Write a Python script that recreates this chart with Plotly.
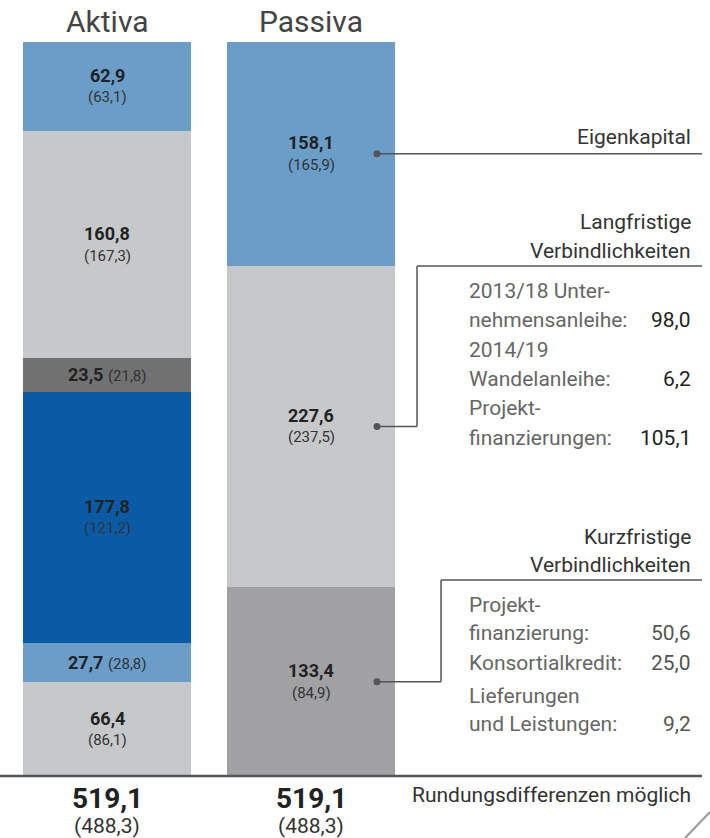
import plotly.graph_objects as go

# ---------------- data ----------------
columns = ["Aktiva", "Passiva"]
aktiva_values = [66.4, 27.7, 177.8, 23.5, 160.8, 62.9]
aktiva_prev = [86.1, 28.8, 121.2, 21.8, 167.3, 63.1]
passiva_values = [133.4, 227.6, 158.1]
passiva_prev = [84.9, 237.5, 165.9]
total_values = [519.1, 519.1]
total_prev = [488.3, 488.3]

passiva_names = ["Kurzfristige\nVerbindlichkeiten", "Langfristige\nVerbindlichkeiten", "Eigenkapital"]

lang_items = ["2013/18 Unter-\nnehmensanleihe:", "2014/19\nWandelanleihe:", "Projekt-\nfinanzierungen:"]
lang_values = [98.0, 6.2, 105.1]
kurz_items = ["Projekt-\nfinanzierung:", "Konsortialkredit:", "Lieferungen\nund Leistungen:"]
kurz_values = [50.6, 25.0, 9.2]
footnote = "Rundungsdifferenzen möglich"

# ---------------- styles ----------------
aktiva_colors = ["#c7c8ca", "#6a9ec9", "#0a5ba5", "#717172", "#c7c8ca", "#6a9ec9"]
passiva_colors = ["#a1a1a3", "#c7c8ca", "#6a9ec9"]
single_line = [False, True, False, True, False, False]
FONT = "Roboto"
W, H = 710, 838
BAR_W = 168 / 204
SIDE = 21


def de(v):
    return f"{v:.1f}".replace(".", ",")


def px(x):
    return x / W


def py(y):
    return 1 - y / H


fig = go.Figure()

# stacked bars
for i, v in enumerate(aktiva_values):
    fig.add_bar(x=[0], y=[v], marker=dict(color=aktiva_colors[i], line=dict(width=0)),
                width=BAR_W, showlegend=False, hoverinfo="skip")
for i, v in enumerate(passiva_values):
    fig.add_bar(x=[1], y=[v], marker=dict(color=passiva_colors[i], line=dict(width=0)),
                width=BAR_W, showlegend=False, hoverinfo="skip")

ann = []


def seg_labels(xc, values, prevs, singles):
    base = 0
    mids = []
    for v, p, s in zip(values, prevs, singles):
        mid = base + v / 2
        mids.append(mid)
        if s:
            ann.append(dict(x=xc, y=mid, xref="x", yref="y", showarrow=False, yanchor="middle",
                            text=f"<b>{de(v)}</b> <span style='font-size:15px;color:#333'>({de(p)})</span>",
                            font=dict(family=FONT, size=18, color="#222")))
        else:
            ann.append(dict(x=xc, y=mid, xref="x", yref="y", showarrow=False, yshift=11, yanchor="middle",
                            text=f"<b>{de(v)}</b>", font=dict(family=FONT, size=18, color="#222")))
            ann.append(dict(x=xc, y=mid, xref="x", yref="y", showarrow=False, yshift=-11, yanchor="middle",
                            text=f"({de(p)})", font=dict(family=FONT, size=15, color="#333")))
        base += v
    return mids


seg_labels(0, aktiva_values, aktiva_prev, single_line)
pmids = seg_labels(1, passiva_values, passiva_prev, [False] * 3)

# column titles and totals
for i, name in enumerate(columns):
    ann.append(dict(x=i, y=py(22), xref="x", yref="paper", showarrow=False, text=name,
                    xanchor="center", yanchor="middle",
                    font=dict(family=FONT, size=30, color="#444")))
    ann.append(dict(x=i, y=py(798), xref="x", yref="paper", showarrow=False,
                    xanchor="center", yanchor="middle",
                    text=f"<b>{de(total_values[i])}</b>", font=dict(family=FONT, size=28, color="#222")))
    ann.append(dict(x=i, y=py(826), xref="x", yref="paper", showarrow=False,
                    xanchor="center", yanchor="middle",
                    text=f"({de(total_prev[i])})", font=dict(family=FONT, size=21, color="#333")))

RIGHT = px(693)


def rtext(y, t, color="#333", size=SIDE):
    ann.append(dict(x=RIGHT, y=py(y), xref="paper", yref="paper", xanchor="right", yanchor="middle",
                    showarrow=False, text=t, font=dict(family=FONT, size=size, color=color)))


def ltext(y, t, color="#666", size=SIDE):
    ann.append(dict(x=px(467), y=py(y), xref="paper", yref="paper", xanchor="left", yanchor="middle",
                    showarrow=False, text=t, font=dict(family=FONT, size=size, color=color)))


# passiva headings
rtext(137, passiva_names[2])
h1, h2 = passiva_names[1].split("\n")
rtext(222, h1)
rtext(251, h2)
k1, k2 = passiva_names[0].split("\n")
rtext(537, k1)
rtext(565, k2)

# long-term items
ys_lang = [(291, 320), (350, 379), (408, 438)]
for (ya, yb), name, v in zip(ys_lang, lang_items, lang_values):
    a, b = name.split("\n")
    ltext(ya, a)
    ltext(yb, b)
    rtext(yb, de(v), color="#222")

ys_kurz = [(605, 633), (None, 663), (696, 724)]
for (ya, yb), name, v in zip(ys_kurz, kurz_items, kurz_values):
    parts = name.split("\n")
    if len(parts) == 2:
        ltext(ya, parts[0])
        ltext(yb, parts[1])
    else:
        ltext(yb, parts[0])
    rtext(yb, de(v), color="#555")

rtext(795, footnote, color="#333")

# connector lines
LC = "#555"
K = 734 / 519.1
DOT_X = (377 - 107) / 204
xr = lambda x: (x - 107) / 204
yv = lambda yp: (776 - yp) / K
shapes = []


def seg(x0, y0, x1, y1, xref="x", yref="y", w=1.5, c=LC):
    shapes.append(dict(type="line", x0=x0, y0=y0, x1=x1, y1=y1, xref=xref, yref=yref,
                       line=dict(color=c, width=w)))


# Eigenkapital
seg(DOT_X, pmids[2], xr(702), pmids[2])
# Langfristige
seg(DOT_X, pmids[1], xr(417), pmids[1])
seg(xr(417), pmids[1], xr(417), yv(266))
seg(xr(417), yv(266), xr(702), yv(266))
# Kurzfristige
seg(DOT_X, pmids[0], xr(441), pmids[0])
seg(xr(441), pmids[0], xr(441), yv(580))
seg(xr(441), yv(580), xr(702), yv(580))

for m in pmids:
    shapes.append(dict(type="circle", xref="x", yref="y", xsizemode="pixel", ysizemode="pixel",
                       xanchor=DOT_X, yanchor=m, x0=-3.5, x1=3.5, y0=-3.5, y1=3.5,
                       fillcolor="#555", line=dict(width=0)))

# baseline
seg(px(0), py(776), px(702), py(776), xref="paper", yref="paper", w=2.5, c="#555")
# page corner
seg(px(685), py(838), px(710), py(812), xref="paper", yref="paper", w=2, c="#999")

fig.update_layout(
    barmode="stack",
    width=W, height=H,
    margin=dict(l=0, r=0, t=0, b=0),
    paper_bgcolor="white", plot_bgcolor="white",
    bargap=0,
    xaxis=dict(range=[-107 / 204, (W - 107) / 204], visible=False, fixedrange=True),
    yaxis=dict(range=[-(H - 776) / K, 776 / K], visible=False, fixedrange=True),
    annotations=ann,
    shapes=shapes,
    showlegend=False,
)

fig.write_html("out.html", config={"displayModeBar": False},
               post_script="document.body.style.margin='0px';document.body.style.overflow='hidden';")
